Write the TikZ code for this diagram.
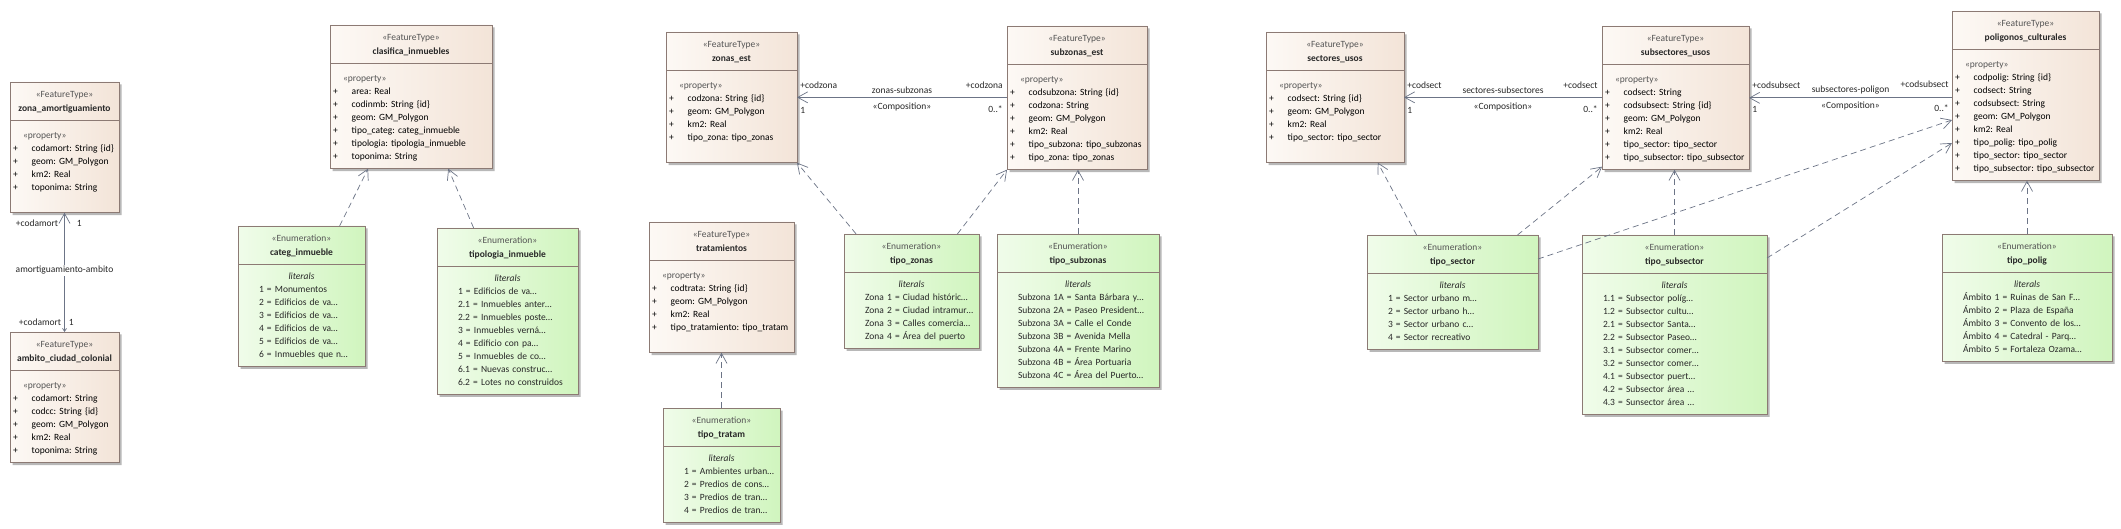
\documentclass[tikz,border=0pt]{standalone}
\usepackage{fontspec}
\setmainfont{Carlito}
\usetikzlibrary{shapes.multipart,shadows,calc,arrows.meta}
\definecolor{featl}{RGB}{253,249,245}
\definecolor{featr}{RGB}{243,228,216}
\definecolor{enuml}{RGB}{240,252,234}
\definecolor{enumr}{RGB}{208,245,190}
\definecolor{boxline}{RGB}{140,122,116}
\definecolor{conn}{RGB}{108,116,134}
\definecolor{txtdark}{RGB}{40,40,40}
\definecolor{txtgray}{RGB}{85,85,85}
\begin{document}
\begin{tikzpicture}[x=1pt,y=-1pt]
  \tikzstyle{umlbox}=[rectangle split, rectangle split parts=2, draw=boxline, line width=0.7pt,
    anchor=north west, inner xsep=3pt, inner ysep=5pt, outer sep=0pt, align=left,
    font=\fontsize{9.5}{13}\selectfont\frenchspacing, text=txtdark,
    drop shadow={shadow xshift=2.5pt, shadow yshift=-2.5pt, fill=black!28, opacity=1}]
  \tikzstyle{featbox}=[umlbox, left color=featl, right color=featr]
  \tikzstyle{enumbox}=[umlbox, left color=enuml, right color=enumr]
  \tikzstyle{depline}=[draw=conn, line width=0.7pt, dash pattern=on 6pt off 4pt,
    -{Straight Barb[length=10pt,width=11pt]}]
  \tikzstyle{assocline}=[draw=conn, line width=0.7pt, -{Straight Barb[length=10pt,width=11pt]}]
  \tikzstyle{lbl}=[font=\fontsize{9.5}{13}\selectfont, text=txtdark, inner sep=0pt]
  \path[use as bounding box, fill=white] (0,0) rectangle (2121,529);

  % feature types
  \node[featbox, text width=103pt] (zonaam) at (10,82)
    {\centering\rule{0pt}{10pt}{\color{txtgray}«FeatureType»}\\[1pt]\textbf{zona\_amortiguamiento}\strut\par
     \nodepart{two}\rule{0pt}{12.5pt}\hspace*{10pt}{\color{txtgray}«property»}\\
     +\hspace{14pt}codamort: String \{id\}\\
     +\hspace{14pt}geom: GM\_Polygon\\
     +\hspace{14pt}km2: Real\\
     +\hspace{14pt}toponima: String\\
     \strut};
  \node[featbox, text width=103pt] (ambito) at (10,332)
    {\centering\rule{0pt}{10pt}{\color{txtgray}«FeatureType»}\\[1pt]\textbf{ambito\_ciudad\_colonial}\strut\par
     \nodepart{two}\rule{0pt}{12.5pt}\hspace*{10pt}{\color{txtgray}«property»}\\
     +\hspace{14pt}codamort: String\\
     +\hspace{14pt}codcc: String \{id\}\\
     +\hspace{14pt}geom: GM\_Polygon\\
     +\hspace{14pt}km2: Real\\
     +\hspace{14pt}toponima: String\strut};
  \node[featbox, text width=156pt] (clasif) at (330,25)
    {\centering\rule{0pt}{10pt}{\color{txtgray}«FeatureType»}\\[1pt]\textbf{clasifica\_inmuebles}\strut\par
     \nodepart{two}\rule{0pt}{12.5pt}\hspace*{10pt}{\color{txtgray}«property»}\\
     +\hspace{14pt}area: Real\\
     +\hspace{14pt}codinmb: String \{id\}\\
     +\hspace{14pt}geom: GM\_Polygon\\
     +\hspace{14pt}tipo\_categ: categ\_inmueble\\
     +\hspace{14pt}tipologia: tipologia\_inmueble\\
     +\hspace{14pt}toponima: String\strut};
  \node[featbox, text width=125pt] (zonas) at (666,32)
    {\centering\rule{0pt}{10pt}{\color{txtgray}«FeatureType»}\\[1pt]\textbf{zonas\_est}\strut\par
     \nodepart{two}\rule{0pt}{12.5pt}\hspace*{10pt}{\color{txtgray}«property»}\\
     +\hspace{14pt}codzona: String \{id\}\\
     +\hspace{14pt}geom: GM\_Polygon\\
     +\hspace{14pt}km2: Real\\
     +\hspace{14pt}tipo\_zona: tipo\_zonas\\
     \strut};
  \node[featbox, text width=134pt] (subzonas) at (1007,26)
    {\centering\rule{0pt}{10pt}{\color{txtgray}«FeatureType»}\\[1pt]\textbf{subzonas\_est}\strut\par
     \nodepart{two}\rule{0pt}{12.5pt}\hspace*{10pt}{\color{txtgray}«property»}\\
     +\hspace{14pt}codsubzona: String \{id\}\\
     +\hspace{14pt}codzona: String\\
     +\hspace{14pt}geom: GM\_Polygon\\
     +\hspace{14pt}km2: Real\\
     +\hspace{14pt}tipo\_subzona: tipo\_subzonas\\
     +\hspace{14pt}tipo\_zona: tipo\_zonas\strut};
  \node[featbox, text width=139pt] (tratam) at (649,222)
    {\centering\rule{0pt}{10pt}{\color{txtgray}«FeatureType»}\\[1pt]\textbf{tratamientos}\strut\par
     \nodepart{two}\rule{0pt}{12.5pt}\hspace*{10pt}{\color{txtgray}«property»}\\
     +\hspace{14pt}codtrata: String \{id\}\\
     +\hspace{14pt}geom: GM\_Polygon\\
     +\hspace{14pt}km2: Real\\
     +\hspace{14pt}tipo\_tratamiento: tipo\_tratam\\
     \strut};
  \node[featbox, text width=132pt] (sectores) at (1266,32)
    {\centering\rule{0pt}{10pt}{\color{txtgray}«FeatureType»}\\[1pt]\textbf{sectores\_usos}\strut\par
     \nodepart{two}\rule{0pt}{12.5pt}\hspace*{10pt}{\color{txtgray}«property»}\\
     +\hspace{14pt}codsect: String \{id\}\\
     +\hspace{14pt}geom: GM\_Polygon\\
     +\hspace{14pt}km2: Real\\
     +\hspace{14pt}tipo\_sector: tipo\_sector\\
     \strut};
  \node[featbox, text width=141pt] (subsect) at (1602,26)
    {\centering\rule{0pt}{10pt}{\color{txtgray}«FeatureType»}\\[1pt]\textbf{subsectores\_usos}\strut\par
     \nodepart{two}\rule{0pt}{12.5pt}\hspace*{10pt}{\color{txtgray}«property»}\\
     +\hspace{14pt}codsect: String\\
     +\hspace{14pt}codsubsect: String \{id\}\\
     +\hspace{14pt}geom: GM\_Polygon\\
     +\hspace{14pt}km2: Real\\
     +\hspace{14pt}tipo\_sector: tipo\_sector\\
     +\hspace{14pt}tipo\_subsector:~tipo\_subsector\strut};
  \node[featbox, text width=141pt] (poligonos) at (1952,11)
    {\centering\rule{0pt}{10pt}{\color{txtgray}«FeatureType»}\\[1pt]\textbf{poligonos\_culturales}\strut\par
     \nodepart{two}\rule{0pt}{12.5pt}\hspace*{10pt}{\color{txtgray}«property»}\\
     +\hspace{14pt}codpolig: String \{id\}\\
     +\hspace{14pt}codsect: String\\
     +\hspace{14pt}codsubsect: String\\
     +\hspace{14pt}geom: GM\_Polygon\\
     +\hspace{14pt}km2: Real\\
     +\hspace{14pt}tipo\_polig: tipo\_polig\\
     +\hspace{14pt}tipo\_sector: tipo\_sector\\
     +\hspace{14pt}tipo\_subsector:~tipo\_subsector\strut};

  % enumerations
  \node[enumbox, text width=121pt] (categ) at (238,226)
    {\centering\rule{0pt}{10pt}{\color{txtgray}«Enumeration»}\\[1pt]\textbf{categ\_inmueble}\strut\par
     \nodepart{two}\strut\makebox[\linewidth]{\textit{literals}}\\
     \hspace*{18pt}1 = Monumentos\\
     \hspace*{18pt}2 = Edificios de va…\\
     \hspace*{18pt}3 = Edificios de va…\\
     \hspace*{18pt}4 = Edificios de va…\\
     \hspace*{18pt}5 = Edificios de va…\\
     \hspace*{18pt}6 = Inmuebles que n…\strut};
  \node[enumbox, text width=135pt] (tipolog) at (437,228)
    {\centering\rule{0pt}{10pt}{\color{txtgray}«Enumeration»}\\[1pt]\textbf{tipologia\_inmueble}\strut\par
     \nodepart{two}\strut\makebox[\linewidth]{\textit{literals}}\\
     \hspace*{18pt}1 = Edificios de va…\\
     \hspace*{18pt}2.1 = Inmuebles anter…\\
     \hspace*{18pt}2.2 = Inmuebles poste…\\
     \hspace*{18pt}3 = Inmuebles verná…\\
     \hspace*{18pt}4 = Edificio con pa…\\
     \hspace*{18pt}5 = Inmuebles de co…\\
     \hspace*{18pt}6.1 = Nuevas construc…\\
     \hspace*{18pt}6.2 = Lotes no construidos\strut};
  \node[enumbox, text width=111pt] (tipotratam) at (663,408)
    {\centering\rule{0pt}{10pt}{\color{txtgray}«Enumeration»}\\[1pt]\textbf{tipo\_tratam}\strut\par
     \nodepart{two}\strut\makebox[\linewidth]{\textit{literals}}\\
     \hspace*{18pt}1 = Ambientes urban…\\
     \hspace*{18pt}2 = Predios de cons…\\
     \hspace*{18pt}3 = Predios de tran…\\
     \hspace*{18pt}4 = Predios de tran…\strut};
  \node[enumbox, text width=129pt] (tipozonas) at (844,234)
    {\centering\rule{0pt}{10pt}{\color{txtgray}«Enumeration»}\\[1pt]\textbf{tipo\_zonas}\strut\par
     \nodepart{two}\strut\makebox[\linewidth]{\textit{literals}}\\
     \hspace*{18pt}Zona 1 = Ciudad históric…\\
     \hspace*{18pt}Zona 2 = Ciudad intramur…\\
     \hspace*{18pt}Zona 3 = Calles comercia…\\
     \hspace*{18pt}Zona 4 = Área del puerto\strut};
  \node[enumbox, text width=156pt] (tiposubz) at (997,234)
    {\centering\rule{0pt}{10pt}{\color{txtgray}«Enumeration»}\\[1pt]\textbf{tipo\_subzonas}\strut\par
     \nodepart{two}\strut\makebox[\linewidth]{\textit{literals}}\\
     \hspace*{18pt}Subzona 1A = Santa Bárbara y…\\
     \hspace*{18pt}Subzona 2A = Paseo President…\\
     \hspace*{18pt}Subzona 3A = Calle el Conde\\
     \hspace*{18pt}Subzona 3B = Avenida Mella\\
     \hspace*{18pt}Subzona 4A = Frente Marino\\
     \hspace*{18pt}Subzona 4B = Área Portuaria\\
     \hspace*{18pt}Subzona 4C = Área del Puerto…\strut};
  \node[enumbox, text width=165pt] (tiposector) at (1367,235)
    {\centering\rule{0pt}{10pt}{\color{txtgray}«Enumeration»}\\[1pt]\textbf{tipo\_sector}\strut\par
     \nodepart{two}\strut\makebox[\linewidth]{\textit{literals}}\\
     \hspace*{18pt}1 = Sector urbano m…\\
     \hspace*{18pt}2 = Sector urbano h…\\
     \hspace*{18pt}3 = Sector urbano c…\\
     \hspace*{18pt}4 = Sector recreativo\strut};
  \node[enumbox, text width=179pt] (tiposubsect) at (1582,235)
    {\centering\rule{0pt}{10pt}{\color{txtgray}«Enumeration»}\\[1pt]\textbf{tipo\_subsector}\strut\par
     \nodepart{two}\strut\makebox[\linewidth]{\textit{literals}}\\
     \hspace*{18pt}1.1 = Subsector políg…\\
     \hspace*{18pt}1.2 = Subsector cultu…\\
     \hspace*{18pt}2.1 = Subsector Santa…\\
     \hspace*{18pt}2.2 = Subsector Paseo…\\
     \hspace*{18pt}3.1 = Subsector comer…\\
     \hspace*{18pt}3.2 = Sunsector comer…\\
     \hspace*{18pt}4.1 = Subsector puert…\\
     \hspace*{18pt}4.2 = Subsector área …\\
     \hspace*{18pt}4.3 = Sunsector área …\strut};
  \node[enumbox, text width=164pt] (tipopolig) at (1942,234)
    {\centering\rule{0pt}{10pt}{\color{txtgray}«Enumeration»}\\[1pt]\textbf{tipo\_polig}\strut\par
     \nodepart{two}\strut\makebox[\linewidth]{\textit{literals}}\\
     \hspace*{18pt}Ámbito 1 = Ruinas de San F…\\
     \hspace*{18pt}Ámbito 2 = Plaza de España\\
     \hspace*{18pt}Ámbito 3 = Convento de los…\\
     \hspace*{18pt}Ámbito 4 = Catedral - Parq…\\
     \hspace*{18pt}Ámbito 5 = Fortaleza Ozama…\strut};

  % associations
  \draw[assocline, {Straight Barb[length=3pt,width=4pt]}-{Straight Barb[length=10pt,width=11pt]}]
    (ambito.north) --
    node[lbl, pos=0.884, anchor=base east, xshift=-6pt] {+codamort}
    node[lbl, pos=0.884, anchor=base west, xshift=12pt] {1}
    node[lbl, pos=0.518, fill=white, inner sep=1.5pt] {amortiguamiento-ambito}
    node[lbl, pos=0.053, anchor=base east, xshift=-3pt] {+codamort}
    node[lbl, pos=0.053, anchor=base west, xshift=4pt] {1}
    (zonaam.south);
  \draw[assocline] (zonas.east -| subzonas.west) --
    node[lbl, pos=1, anchor=base west, xshift=3pt, yshift=8.5pt] {+codzona}
    node[lbl, pos=1, anchor=base west, xshift=3pt, yshift=-16pt] {1}
    node[lbl, pos=0.5, anchor=base, yshift=3.5pt] {zonas-subzonas}
    node[lbl, pos=0.5, anchor=base, yshift=-12.5pt] {«Composition»}
    node[lbl, pos=0, anchor=base east, xshift=-4pt, yshift=8.5pt] {+codzona}
    node[lbl, pos=0, anchor=base east, xshift=-4pt, yshift=-15.5pt] {0..*}
    (zonas.east);
  \draw[assocline] (sectores.east -| subsect.west) --
    node[lbl, pos=1, anchor=base west, xshift=3pt, yshift=8.5pt] {+codsect}
    node[lbl, pos=1, anchor=base west, xshift=3pt, yshift=-16pt] {1}
    node[lbl, pos=0.5, anchor=base, yshift=3.5pt] {sectores-subsectores}
    node[lbl, pos=0.5, anchor=base, yshift=-12.5pt] {«Composition»}
    node[lbl, pos=0, anchor=base east, xshift=-4pt, yshift=8.5pt] {+codsect}
    node[lbl, pos=0, anchor=base east, xshift=-4pt, yshift=-15.5pt] {0..*}
    (sectores.east);
  \draw[assocline] (subsect.east -| poligonos.west) --
    node[lbl, pos=1, anchor=base west, xshift=3pt, yshift=9.5pt] {+codsubsect}
    node[lbl, pos=1, anchor=base west, xshift=3pt, yshift=-15pt] {1}
    node[lbl, pos=0.5, anchor=base, yshift=5pt] {subsectores-poligon}
    node[lbl, pos=0.5, anchor=base, yshift=-11pt] {«Composition»}
    node[lbl, pos=0, anchor=base east, xshift=-3pt, yshift=10pt] {+codsubsect}
    node[lbl, pos=0, anchor=base east, xshift=-3pt, yshift=-14pt] {0..*}
    (subsect.east);

  % enumeration dependencies
  \draw[depline] ($(categ.north west)!0.8!(categ.north east)$) -- ($(clasif.south west)!0.235!(clasif.south east)$);
  \draw[depline] ($(tipolog.north west)!0.26!(tipolog.north east)$) -- ($(clasif.south west)!0.73!(clasif.south east)$);
  \draw[depline] (tipotratam.north) -- (tipotratam.north |- tratam.south);
  \draw[depline] ($(tipozonas.north west)!0.09!(tipozonas.north east)$) -- (zonas.south east);
  \draw[depline] ($(tipozonas.north west)!0.84!(tipozonas.north east)$) -- (subzonas.south west);
  \draw[depline] (tiposubz.north) -- (tiposubz.north |- subzonas.south);
  \draw[depline] ($(tiposector.north west)!0.29!(tiposector.north east)$) -- ($(sectores.south west)!0.81!(sectores.south east)$);
  \draw[depline] ($(tiposector.north west)!0.88!(tiposector.north east)$) -- ([yshift=3pt]subsect.south west);
  \draw[depline] (tiposubsect.north) -- (tiposubsect.north |- subsect.south);
  \draw[depline] ([yshift=-24pt]tiposector.north east) -- ([yshift=-109pt]poligonos.north west);
  \draw[depline] ([yshift=-23pt]tiposubsect.north east) -- ([yshift=-132pt]poligonos.north west);
  \draw[depline] (tipopolig.north) -- (tipopolig.north |- poligonos.south);
\end{tikzpicture}
\end{document}
